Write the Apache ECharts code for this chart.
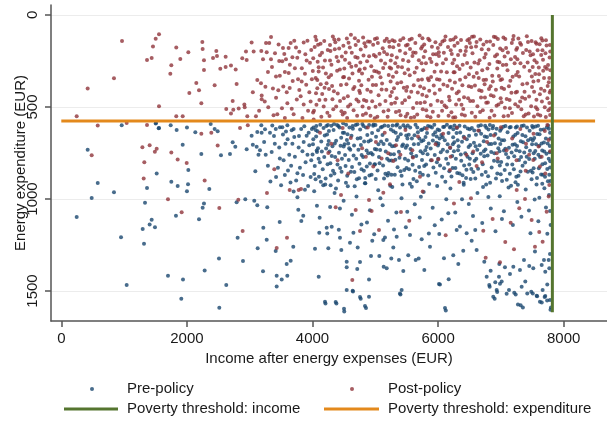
<!DOCTYPE html>
<html>
<head>
<meta charset="utf-8">
<script src="https://cdn.jsdelivr.net/npm/echarts@6/dist/echarts.min.js"></script>
<style>
  html, body { margin:0; padding:0; background:#fff; }
  #chart { width:607px; height:421px; }
</style>
</head>
<body>
<div id="chart"></div>
<script>
// scatter: income after energy expenses (x) vs energy expenditure (y)

const xTicks = [0, 2000, 4000, 6000, 8000];
const yTicks = [0, 500, 1000, 1500];

// poverty thresholds
const incomeThreshold = 7820;
const incomeLineSpan = [0, 1615];
const expThreshold = 576;
const expLineSpan = [0, 8500];

// Pre-policy, low incomes (< ~4100)
const preLeft = [
  [420,732],[580,913],[484,995],[245,1098],[839,964],[962,600],[951,1208],[1041,1467],[1333,1020],[1365,940],
  [1519,862],[1317,1243],[1296,1163],[1407,1138],[1439,1113],[1492,1154],[1508,587],[1551,616],[1699,1417],[1752,906],
  [1826,1091],[1853,929],[1911,1542],[1938,1438],[2001,958],[2018,920],[2023,842],[2193,1110],[2251,1047],[2272,1024],
  [2283,1388],[2357,946],[2511,1324],[2516,1591],[2627,1467],[2792,1018],[2808,1210],[2893,1337],[2930,1002],[3073,1009],
  [3121,1034],[3127,1268],[3217,1157],[3212,1393],[3271,1221],[3280,1045],[3414,1283],[3430,1417],[3430,1475],[3510,1438],
  [3599,1417],[3589,1353],[3653,1335],[3694,1259],[3478,1125],[3774,1058],[3853,1091],[3822,1120],[4040,1270],[4099,1422],
  [4108,1183],[1556,614],[1503,590],[1742,600],[1837,625],[1933,705],[2001,612],[2134,638],[2230,755],[2379,592],
  [2442,620],[2490,632],[2543,763],[2729,692],[2771,716],[2686,755],[3031,656],[3121,636],[3185,600],[3244,621],
  [3323,640],[3360,601],[3387,658],[3482,610],[3530,650],[3578,634],[3604,676],[3669,627],[3710,663],[3785,658],
  [3870,605],[3907,656],[3949,708],[4013,676],[4050,625],[4067,737],[3164,735],[2952,730],[3111,716],[3050,705],
  [3140,760],[3230,690],[3290,820],[3350,745],[3420,880],[3470,720],[3540,790],[3610,845],[3680,700],[3720,770],
  [3800,830],[3860,690],[3920,760],[3970,880],[3330,905],[3500,925],[3650,910],[3090,850],[3190,640],[3880,950],
  [3760,990],[3570,700],[3255,760],[3415,620],[3850,870],
  [3400,700],[3450,830],[3520,610],[3560,870],[3630,760],[3700,620],[3740,900],[3780,720],[3820,620],[3890,800],
  [3940,640],[3980,790],[3660,820],[3600,600],[3480,780],[3930,930],[3760,860],[3840,740],[3990,620],[3700,960]
];

// Pre-policy, dense band just under the expenditure threshold
const preNearLine = [
  [4015,612],[4140,688],[4072,745],[4221,603],[4036,821],[4187,772],[4103,879],[4246,705],[4058,660],[4163,838],
  [4124,596],[4209,889],[4088,724],[4001,758],[4232,650],[4049,893],[4176,615],[4117,801],
  [4262,631],[4391,598],[4318,714],[4457,667],[4285,806],[4422,749],[4349,861],[4488,588],[4301,602],[4376,683],
  [4441,832],[4271,742],[4408,899],[4336,625],[4469,781],[4293,872],[4362,772],[4431,611],[4497,715],
  [4511,702],[4643,619],[4578,788],[4719,672],[4536,596],[4667,853],[4602,733],[4748,809],[4553,874],[4688,598],
  [4621,657],[4527,821],[4731,732],[4589,611],[4655,764],[4504,640],[4706,893],[4569,698],[4630,826],
  [4759,623],[4888,751],[4823,687],[4966,602],[4781,838],[4915,807],[4852,612],[4993,729],[4806,772],[4941,868],
  [4873,653],[4771,707],[4927,681],[4840,886],[4985,812],[4794,593],[4902,598],[4958,758],[4865,823],
  [5012,662],[5147,601],[5078,734],[5221,791],[5036,845],[5183,679],[5109,608],[5248,622],[5059,772],[5196,873],
  [5124,818],[5003,598],[5167,742],[5092,688],[5232,702],[5045,627],[5139,889],[5210,859],
  [5268,714],[5406,648],[5334,601],[5472,781],[5289,632],[5427,712],[5355,827],[5493,655],[5311,868],[5448,599],
  [5376,743],[5259,791],[5419,874],[5343,679],[5485,721],[5297,757],[5394,611],[5461,842],[5326,640],
  [5517,601],[5652,766],[5583,672],[5729,625],[5538,838],[5687,701],[5608,891],[5744,788],[5561,729],[5669,612],
  [5625,654],[5506,709],[5712,857],[5594,814],[5641,597],[5533,651],[5698,826],[5572,752],[5736,686],
  [5766,681],[5903,612],[5832,757],[5972,695],[5787,614],[5926,829],[5851,699],[5994,623],[5809,812],[5947,761],
  [5873,606],[5757,869],[5917,682],[5843,873],[5981,801],[5796,735],[5886,790],[5955,637],[5824,642],
  [6019,627],[6152,703],[6081,609],[6226,767],[6043,746],[6179,849],[6107,681],[6244,621],[6064,879],[6203,607],
  [6129,781],[6006,698],[6167,642],[6095,833],[6235,702],[6031,818],[6141,596],[6213,878],[6073,664],
  [6261,601],[6408,662],[6327,713],[6472,617],[6283,781],[6433,751],[6352,639],[6497,812],[6305,859],[6446,886],
  [6369,792],[6258,692],[6415,818],[6341,602],[6486,717],[6294,642],[6389,871],[6458,676],[6318,735],
  [6513,707],[6654,629],[6582,792],[6727,686],[6538,615],[6679,754],[6603,651],[6749,602],[6561,853],[6697,869],
  [6624,732],[6506,782],[6711,811],[6593,889],[6642,603],[6529,837],[6686,645],[6571,694],[6735,768],
  [6768,613],[6905,697],[6836,652],[6979,741],[6789,764],[6932,618],[6853,829],[6997,866],[6811,701],[6951,796],
  [6877,604],[6758,853],[6922,889],[6846,745],[6988,629],[6797,877],[6891,792],[6964,671],[6825,598],
  [7014,681],[7157,609],[7082,756],[7223,702],[7038,608],[7182,812],[7107,638],[7246,879],[7061,843],[7198,661],
  [7128,721],[7005,799],[7171,747],[7094,896],[7237,612],[7049,737],[7143,863],[7213,768],[7073,603],
  [7267,641],[7403,719],[7331,604],[7476,673],[7289,788],[7429,852],[7354,692],[7498,604],[7313,851],[7451,783],
  [7372,747],[7258,712],[7416,611],[7345,819],[7489,893],[7281,874],[7392,659],[7463,738],[7322,772],
  [7511,612],[7648,698],[7578,647],[7726,754],[7539,781],[7681,623],[7604,833],[7752,601],[7561,703],[7703,879],
  [7624,772],[7505,856],[7717,672],[7592,602],[7661,811],[7531,669],[7691,742],[7575,886],[7739,837],[7783,640],
  [7779,712],[7786,795],[7771,868],[7765,618],[7789,902],[7634,624],[7548,739],[7745,699],[7612,711],[7667,869]
];

// Pre-policy, more of the same band (fills the gaps)
const preNearLine2 = [
  [4008,702],[4061,604],[4097,781],[4149,742],[4195,655],[4240,811],[4027,864],[4133,906],[4217,726],[4081,632],[4171,925],[4246,598],
  [4258,685],[4307,766],[4355,699],[4412,603],[4463,852],[4289,925],[4343,593],[4398,812],[4447,711],[4327,846],[4483,640],[4374,943],
  [4519,761],[4558,648],[4611,852],[4662,709],[4716,594],[4741,887],[4533,912],[4584,725],[4639,604],[4697,781],[4548,680],[4672,931],
  [4764,668],[4811,603],[4862,736],[4907,872],[4949,641],[4996,811],[4783,761],[4835,914],[4891,687],[4933,750],[4972,595],[4818,846],
  [5020,731],[5068,806],[5115,652],[5161,863],[5206,604],[5243,757],[5007,891],[5088,612],[5132,701],[5189,781],[5239,928],[5050,703],
  [5276,601],[5319,787],[5363,663],[5402,849],[5442,704],[5481,611],[5257,869],[5306,712],[5385,776],[5433,922],[5497,832],[5349,594],
  [5512,672],[5556,611],[5597,771],[5636,846],[5678,638],[5721,741],[5749,622],[5523,791],[5615,702],[5661,903],[5703,671],[5582,934],
  [5758,751],[5800,663],[5839,604],[5882,726],[5924,651],[5963,857],[5998,709],[5779,821],[5858,919],[5940,596],[5978,661],[5817,718],
  [6003,781],[6052,653],[6098,607],[6145,742],[6188,611],[6232,831],[6024,672],[6116,907],[6159,809],[6240,664],[6077,732],[6194,723],
  [6253,741],[6299,614],[6343,862],[6381,689],[6424,606],[6469,771],[6493,656],[6276,831],[6362,758],[6409,923],[6452,841],[6312,681],
  [6503,621],[6549,752],[6598,713],[6637,836],[6683,599],[6728,741],[6518,891],[6576,628],[6661,708],[6716,935],[6744,661],[6609,781],
  [6755,731],[6803,622],[6849,701],[6897,752],[6943,861],[6991,701],[6779,663],[6829,912],[6868,616],[6912,647],[6959,725],[6983,818],
  [7008,619],[7052,681],[7099,812],[7139,611],[7186,706],[7231,651],[7019,902],[7071,727],[7117,775],[7162,928],[7207,838],[7244,735],
  [7256,606],[7299,741],[7342,653],[7386,802],[7433,681],[7478,847],[7271,923],[7318,686],[7364,601],[7411,771],[7458,629],[7497,702],
  [7508,681],[7553,606],[7597,759],[7641,867],[7686,693],[7731,611],[7776,746],[7784,829],[7522,833],[7568,921],[7616,648],[7658,736],
  [7705,806],[7749,904],[7787,671],[7523,752],[7693,942],[7762,782]
];

// Pre-policy, 900-1200
const preMid = [
  [4027,958],[4114,1102],[4203,921],[4281,1043],[4352,968],[4419,1167],[4496,1009],[4563,931],[4628,1086],[4701,987],
  [4779,1139],[4842,914],[4915,1061],[4983,1192],[5047,952],[5118,1034],[5203,1118],[5271,935],[5336,1073],[5418,996],
  [5487,1154],[5552,917],[5629,1029],[5708,1101],[5771,962],[5853,1188],[5914,1047],[5986,929],[6058,1112],[6131,1001],
  [6197,943],[6274,1074],[6348,1149],[6407,912],[6489,1027],[6556,1093],[6627,968],[6703,1131],[6766,921],[6839,1052],
  [6914,1176],[6982,985],[7048,1067],[7122,938],[7191,1142],[7262,1016],[7327,1097],[7396,949],[7471,1186],[7538,1003],
  [7597,1121],[7659,917],[7718,1046],[7767,979],[7792,1142],[7783,1065],[7740,1189],[7612,993],[7447,1063],[7233,909],
  [7017,1109],[6801,989],[6592,1169],[6381,1002],[6163,1077],[5947,1143],[5726,988],[5509,1069],[5298,1166],[5081,996],
  [4868,1128],[4652,1183],[4437,1052],[4236,1188],[4071,1037]
];

// Pre-policy, high expenditure tail (> 1150)
const preLow = [
  [4226,1156],[4252,1268],[4459,1277],[4545,1341],[4545,1371],[4713,1380],[4757,1342],[4545,1495],[4640,1498],[4757,1533],
  [4900,1531],[4836,1582],[4502,1596],[4199,1558],[4369,1560],[4900,1438],[4932,1310],[5064,1310],[5128,1223],[5134,1368],
  [5182,1377],[5255,1324],[5287,1263],[5377,1332],[5393,1513],[5420,1495],[5446,1391],[5525,1306],[5643,1332],[5691,1324],
  [5781,1386],[6014,1462],[6110,1592],[6169,1436],[6094,1322],[6242,1306],[6322,1353],[6736,1341],[6774,1422],[6822,1477],
  [6879,1531],[6933,1495],[6970,1422],[7013,1449],[7065,1371],[7129,1495],[7213,1509],[7272,1574],[7315,1578],[7331,1477],
  [7389,1449],[7368,1332],[7452,1364],[7484,1504],[7570,1526],[7622,1558],[7665,1495],[7707,1527],[7739,1464],[7707,1395],
  [7650,1359],[7761,1332],[7782,1299],[7771,1377],[7782,1549],[7798,1589],[7686,1332],[7543,1286],[7516,1377],[7304,1386],
  [7145,1408],[6975,1353],[6837,1390],[6911,1453],[7198,1368],[6401,1281],[6535,1227],[6614,1277],[6455,1186],[6296,1168],
  [6019,1190],[5871,1259],[5739,1219],[5553,1196],[5341,1205],[5154,1209],[4952,1227],[4720,1263],[4597,1238],[4438,1210],
  [4306,1151],[4207,1568],[4381,1568],[4506,1611],[4645,1503],[4768,1542],[4852,1592],[5401,1519],[6123,1606],[6030,1464],
  [6901,1542],[6941,1505],[7092,1515],[7236,1519],[7350,1590],[7420,1513],[7508,1513],[7577,1529],[7651,1562],[7697,1533],
  [7737,1551],[7790,1602],[6815,1468],[6986,1460]
];

// Post-policy, low incomes (< ~4100)
const postLeft = [
  [967,141],[420,400],[839,344],[245,551],[580,601],[484,763],[1041,587],[1365,598],[1291,719],[1519,727],
  [1490,743],[1322,801],[1312,889],[1365,245],[1439,234],[1460,172],[1503,129],[1556,105],[1556,496],[1736,319],
  [1752,274],[1831,177],[1895,239],[1831,551],[1933,551],[2023,203],[2039,424],[2150,370],[2193,409],[2230,480],
  [2246,147],[2251,185],[2272,246],[2272,299],[2416,234],[2442,382],[2469,196],[2479,223],[2532,293],[2617,227],
  [2617,283],[2702,275],[2729,467],[2777,297],[2792,375],[2882,236],[2915,486],[2941,199],[2952,245],[3031,150],
  [3063,199],[3121,353],[3180,371],[3191,438],[3191,458],[3185,196],[3212,241],[3260,152],[3271,203],[3291,310],
  [3312,152],[3339,241],[3355,283],[3296,502],[3403,208],[3419,335],[3456,409],[3519,252],[3535,389],[3514,507],
  [3551,212],[3578,241],[3621,315],[3637,397],[3653,152],[3685,359],[3737,177],[3758,232],[3790,408],[3812,442],
  [3828,362],[3860,487],[3886,214],[3907,248],[4061,136],[4077,353],[4099,284],[1699,1002],[1917,1072],[2283,900],
  [2516,1049],[2888,1174],[3594,1210],[3430,1266],[2819,1004],[3275,967],[3637,951],[3780,951],[3817,946],[3392,839],
  [1997,804],[1853,786],[1752,748],[2230,645],[2389,640],[2490,710],[1407,708],[2627,511],[2702,536],[2739,515],
  [2825,509],[2920,502],[2962,551],[3100,551],[2970,600],[2846,614],[3050,420],[3150,520],[3240,470],[3380,545],
  [3460,160],[3600,480],[3700,540],[3880,320],[3950,420],[4010,530],[3980,190],[3720,290],[3560,560],[3470,250],
  [3250,390],
  [3420,450],[3480,330],[3530,180],[3590,420],[3640,270],[3670,510],[3710,140],[3750,460],[3790,200],[3830,290],
  [3860,150],[3900,380],[3930,520],[3960,260],[3990,350],[3340,120],[3370,400],[3440,540],[3560,310],[3620,180],
  [3680,230],[3770,350],[3840,560],[3920,140],[3970,470]
];

// Post-policy, dense cloud above the expenditure threshold
const postUpper = [
  [4012,236],[4187,142],[4063,488],[4224,371],[4098,307],[4141,553],[4035,174],[4206,461],[4119,219],[4077,398],
  [4168,285],[4243,190],[4051,342],[4155,429],[4024,521],[4198,247],[4089,162],[4131,376],
  [4263,402],[4417,133],[4302,271],[4488,338],[4355,187],[4271,549],[4439,468],[4324,117],[4392,303],[4468,226],
  [4286,196],[4377,497],[4453,381],[4341,415],[4409,252],[4297,327],[4481,541],[4364,148],[4425,183],[4318,458],
  [4507,291],[4688,164],[4563,442],[4612,107],[4741,357],[4529,204],[4655,518],[4588,263],[4719,233],[4541,376],
  [4637,318],[4701,459],[4574,151],[4668,392],[4514,531],[4603,487],[4729,142],[4626,205],[4552,560],[4693,276],
  [4582,346],[4745,412],
  [4768,188],[4893,352],[4806,123],[4951,469],[4832,291],[4977,217],[4757,424],[4915,146],[4851,535],[4789,318],
  [4936,279],[4873,406],[4994,131],[4819,462],[4902,224],[4762,258],[4961,381],[4845,172],[4924,548],[4797,497],
  [4883,145],[4983,305],
  [5021,307],[5183,129],[5067,211],[5239,441],[5108,373],[5004,499],[5156,264],[5227,173],[5041,153],[5132,524],
  [5091,248],[5214,326],[5176,407],[5053,436],[5118,181],[5246,248],[5012,381],[5197,553],[5083,338],[5149,141],
  [5033,553],[5229,286],
  [5263,219],[5412,366],[5307,143],[5478,208],[5339,452],[5281,336],[5446,127],[5361,281],[5494,412],[5256,483],
  [5392,195],[5329,527],[5468,317],[5298,398],[5429,479],[5374,164],[5485,552],[5318,262],[5441,245],[5352,371],
  [5272,138],[5403,545],
  [5516,162],[5677,422],[5549,328],[5731,183],[5602,506],[5528,251],[5659,287],[5743,351],[5581,129],[5613,382],
  [5706,112],[5538,447],[5643,206],[5719,479],[5567,558],[5694,246],[5627,313],[5507,391],[5668,541],[5592,223],
  [5749,433],[5553,185],
  [5763,301],[5902,173],[5818,442],[5977,269],[5843,129],[5756,512],[5931,384],[5871,238],[5991,466],[5794,197],
  [5889,337],[5958,148],[5827,551],[5776,398],[5916,526],[5859,412],[5967,213],[5807,263],[5944,309],[5884,489],
  [5779,161],[5852,355],
  [6014,223],[6187,356],[6069,145],[6231,263],[6103,492],[6027,407],[6158,174],[6212,529],[6048,308],[6126,241],
  [6243,134],[6086,378],[6174,445],[6005,549],[6139,311],[6201,192],[6058,473],[6118,117],[6223,401],[6092,206],
  [6167,548],[6037,161],
  [6268,367],[6423,218],[6311,153],[6478,452],[6342,294],[6257,243],[6401,511],[6365,136],[6491,322],[6286,487],
  [6449,174],[6329,416],[6387,382],[6462,261],[6274,556],[6355,195],[6436,338],[6302,279],[6413,447],[6496,131],
  [6378,541],[6261,168],
  [6519,286],[6672,134],[6557,467],[6738,231],[6604,172],[6531,391],[6647,343],[6712,518],[6579,259],[6693,413],
  [6506,152],[6626,496],[6741,376],[6548,208],[6661,246],[6593,553],[6722,161],[6537,532],[6617,315],[6684,449],
  [6571,117],[6703,301],
  [6772,146],[6921,407],[6817,266],[6988,183],[6851,521],[6764,352],[6943,291],[6879,164],[6996,453],[6793,476],
  [6907,225],[6836,388],[6969,332],[6758,212],[6896,546],[6862,331],[6952,131],[6804,188],[6931,494],[6841,437],
  [6977,257],[6889,119],
  [7018,349],[7174,153],[7059,226],[7236,421],[7106,301],[7009,475],[7143,507],[7219,262],[7071,131],[7128,388],
  [7245,189],[7044,551],[7187,336],[7093,457],[7202,114],[7032,272],[7159,241],[7116,548],[7229,485],[7083,179],
  [7168,423],[7051,403],
  [7263,241],[7418,372],[7306,153],[7473,219],[7339,449],[7257,418],[7442,536],[7371,282],[7489,141],[7291,335],
  [7403,191],[7326,512],[7458,303],[7279,128],[7387,456],[7351,207],[7496,391],[7312,262],[7432,147],[7364,551],
  [7274,497],[7449,443],
  [7512,213],[7687,342],[7553,148],[7741,453],[7604,286],[7529,417],[7662,192],[7776,231],[7581,513],[7718,137],
  [7639,401],[7548,321],[7763,366],[7617,159],[7699,502],[7571,258],[7784,544],[7654,471],[7527,552],[7733,292],
  [7596,357],[7781,163],[7671,243],[7507,283],[7756,518],[7628,547],[7710,208],[7566,461],[7789,412],[7644,126],
  [7745,386],[7788,301],[7772,478]
];

// Post-policy, more of the same cloud (fills the gaps)
const postUpper2 = [
  [4005,305],[4046,119],[4110,462],[4152,206],[4213,318],[4237,532],[4083,255],[4178,497],[4128,157],[4056,425],[4192,396],[4019,568],
  [4279,248],[4331,512],[4384,229],[4436,296],[4492,167],[4258,339],[4312,386],[4402,427],[4461,523],[4347,134],[4279,163],[4499,453],
  [4518,244],[4567,498],[4619,281],[4675,127],[4733,471],[4594,177],[4648,403],[4711,548],[4503,337],[4682,229],[4547,128],[4739,305],
  [4778,382],[4827,154],[4869,251],[4947,336],[4991,561],[4813,221],[4898,505],[4966,162],[4752,296],[4858,467],[4929,417],[4802,544],
  [5007,226],[5072,486],[5126,288],[5188,214],[5244,361],[5027,127],[5101,405],[5162,467],[5219,146],[5059,314],[5141,201],[5208,518],
  [5286,175],[5336,311],[5381,522],[5425,284],[5489,166],[5264,419],[5314,477],[5398,137],[5454,396],[5343,231],[5473,463],[5252,291],
  [5524,297],[5573,417],[5638,152],[5683,353],[5737,262],[5511,537],[5604,204],[5661,478],[5715,389],[5546,135],[5621,555],[5748,171],
  [5771,229],[5838,345],[5894,256],[5948,427],[5996,179],[5788,474],[5863,138],[5921,213],[5983,350],[5812,518],[5879,556],[5751,126],
  [6023,352],[6077,263],[6133,502],[6196,136],[6248,311],[6011,203],[6101,137],[6149,386],[6218,212],[6064,520],[6183,463],[6241,557],
  [6279,121],[6334,461],[6392,271],[6441,196],[6489,387],[6263,312],[6318,218],[6373,488],[6427,547],[6349,352],[6468,137],[6297,426],
  [6527,175],[6587,383],[6639,264],[6695,186],[6746,448],[6511,467],[6566,336],[6613,147],[6669,528],[6724,354],[6541,118],[6655,409],
  [6786,291],[6828,145],[6884,442],[6939,215],[6994,354],[6767,477],[6821,558],[6871,361],[6917,121],[6962,487],[6811,403],[6946,254],
  [7027,192],[7086,271],[7139,462],[7193,134],[7242,326],[7012,395],[7064,504],[7112,204],[7177,533],[7226,228],[7041,122],[7151,358],
  [7268,310],[7322,162],[7377,418],[7426,259],[7482,496],[7259,179],[7344,377],[7396,541],[7459,198],[7307,471],[7413,116],[7493,335],
  [7519,362],[7567,157],[7621,431],[7674,303],[7728,166],[7778,422],[7535,246],[7589,541],[7642,218],[7694,412],[7751,272],[7786,198],
  [7556,502],[7608,322],[7661,139],[7716,554],[7771,343],[7787,509],[7585,192],[7704,283]
];

// Post-policy, still above the threshold expenditure after the policy
const postBelow = [
  [4252,750],[4369,1045],[4454,978],[4634,1440],[4688,1060],[4757,1174],[4900,1005],[4942,1065],[5059,1168],[5128,966],
  [5234,920],[5409,1071],[5541,1118],[5755,960],[6121,1197],[6253,1024],[6338,908],[6524,996],[6720,1172],[6758,1319],
  [6869,1109],[6986,1344],[7070,1234],[7156,1129],[7209,1273],[7293,1051],[7384,1000],[7490,1114],[7543,1259],[7611,1179],
  [7665,1232],[7729,1069],[7761,987],[7771,924],[7707,861],[7622,824],[7516,788],[6933,752],[6614,821],[6189,842],
  [5712,879],[5287,793],[4968,824],[4570,861],[5207,752],[6003,784],[7252,951],[7395,846],
  [4120,640],[4300,700],[4480,615],[4610,668],[4790,725],[4880,612],[5010,690],[5150,640],[5330,708],[5480,625],
  [5590,735],[5680,660],[5820,618],[5960,702],[6080,645],[6190,720],[6300,612],[6420,668],[6560,742],[6640,628],
  [6780,690],[6890,655],[7000,610],[7090,735],[7180,672],[7310,620],[7400,700],[7520,645],[7600,715],[7700,630],
  [7760,680],[7785,740],[7740,598],[7650,770],[7450,760],[7250,790],[6950,780],[6700,800],[6450,760],[6200,770],
  [5900,790],[5600,775],[5400,760],[5100,780],[4850,770],[4400,790]
];

const NAVY = '#1a476f';
const MAROON = '#90353b';
const GREEN = '#55752f';
const ORANGE = '#e3891c';
const FONT = 'Liberation Sans, Arial, sans-serif';
const TXT = '#1a1a1a';
const AX = '#555';

const chart = echarts.init(document.getElementById('chart'), null, { renderer: 'canvas' });

function legendBox(name, left, top, w, h, icon, padLeft) {
  return {
    data: [name], left: left, top: top, orient: 'horizontal',
    icon: icon, itemWidth: w, itemHeight: h, padding: 0,
    selectedMode: false,
    textStyle: { fontFamily: FONT, fontSize: 15, color: TXT, padding: [0, 0, 0, padLeft], lineHeight: 16 }
  };
}

const plain = v => String(v);

chart.setOption({
  animation: false,
  backgroundColor: '#fff',
  grid: { left: 51, right: 0, top: 5, bottom: 100, containLabel: false, outerBoundsMode: 'none' },
  xAxis: {
    type: 'value', min: -164, max: 8690,
    name: 'Income after energy expenses (EUR)', nameLocation: 'middle', nameGap: 25,
    nameTextStyle: { fontFamily: FONT, fontSize: 15, color: TXT },
    axisLine: { show: true, onZero: false, lineStyle: { color: AX, width: 1.5 } },
    axisTick: { show: true, length: 6, customValues: xTicks, lineStyle: { color: AX, width: 1.5 } },
    axisLabel: { customValues: xTicks, formatter: plain, margin: 10, fontFamily: FONT, fontSize: 15, color: TXT },
    splitLine: { show: false }
  },
  yAxis: {
    type: 'value', inverse: true, min: -54, max: 1663,
    name: 'Energy expenditure (EUR)', nameLocation: 'middle', nameGap: 23, nameRotate: 90,
    nameMoveOverlap: false,
    nameTextStyle: { fontFamily: FONT, fontSize: 15, color: TXT },
    axisLine: { show: true, onZero: false, lineStyle: { color: AX, width: 1.5 } },
    axisTick: { show: true, length: 6, customValues: yTicks, lineStyle: { color: AX, width: 1.5 } },
    axisLabel: { customValues: yTicks, formatter: plain, rotate: 90, margin: 11, fontFamily: FONT, fontSize: 15, color: TXT },
    splitLine: { show: false }
  },
  legend: [
    legendBox('Pre-policy', 90, 381, 4, 4, 'circle', 28),
    legendBox('Post-policy', 350, 381, 4, 4, 'circle', 29),
    legendBox('Poverty threshold: income', 64, 401, 54, 3, 'rect', 4),
    legendBox('Poverty threshold: expenditure', 324, 401, 55, 3, 'rect', 4)
  ],
  series: [
    {
      name: 'Pre-policy', type: 'scatter', symbolSize: 4,
      itemStyle: { color: NAVY },
      data: preLeft.concat(preNearLine, preNearLine2, preMid, preLow),
      markLine: {
        silent: true, symbol: 'none', label: { show: false }, z: 0,
        lineStyle: { color: '#ececec', width: 1, type: 'solid' },
        data: yTicks.map(v => ({ yAxis: v }))
      }
    },
    {
      name: 'Post-policy', type: 'scatter', symbolSize: 4,
      itemStyle: { color: MAROON },
      data: postLeft.concat(postUpper, postUpper2, postBelow)
    },
    {
      name: 'Poverty threshold: expenditure', type: 'line', symbol: 'none',
      itemStyle: { color: ORANGE }, lineStyle: { color: ORANGE, width: 3 },
      data: expLineSpan.map(x => [x, expThreshold]), z: 5
    },
    {
      name: 'Poverty threshold: income', type: 'line', symbol: 'none',
      itemStyle: { color: GREEN }, lineStyle: { color: GREEN, width: 3 },
      data: incomeLineSpan.map(y => [incomeThreshold, y]), z: 6
    }
  ]
});
</script>
</body>
</html>
